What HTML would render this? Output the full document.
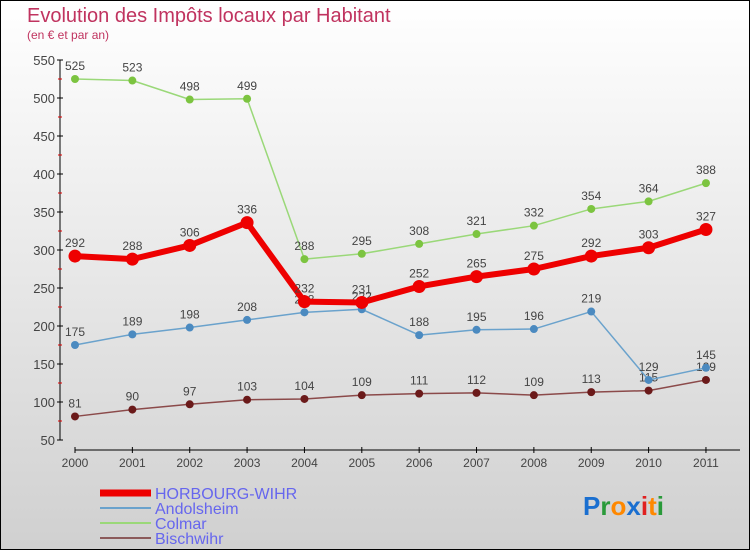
<!DOCTYPE html>
<html><head><meta charset="utf-8"><style>
body{margin:0}
#c{width:750px;height:550px;position:relative;overflow:hidden;box-sizing:border-box;border:1px solid #000;background:linear-gradient(#fff,#d0d0d0);font-family:"Liberation Sans",sans-serif}
</style></head><body>
<div id="c">
<svg id="s" width="750" height="550" style="position:absolute;left:-1px;top:-1px">
<text x="27" y="22" font-size="20" fill="#c0335f">Evolution des Impôts locaux par Habitant</text>
<text x="27" y="39" font-size="12" fill="#c0335f">(en € et par an)</text>
</svg>
</div>
<script>
const years=["2000","2001","2002","2003","2004","2005","2006","2007","2008","2009","2010","2011"];
const yTicks=[50,100,150,200,250,300,350,400,450,500,550];
const horbourg=[292,288,306,336,232,231,252,265,275,292,303,327];
const andolsheim=[175,189,198,208,218,222,188,195,196,219,129,145];
const colmar=[525,523,498,499,288,295,308,321,332,354,364,388];
const bischwihr=[81,90,97,103,104,109,111,112,109,113,115,129];
const s=document.getElementById('s');const NS='http://www.w3.org/2000/svg';
function X(i){return 75+i*57.36;}
function Y(v){return 440-(v-50)*0.76;}
function mk(t,a,p){const e=document.createElementNS(NS,t);for(const k in a)e.setAttribute(k,a[k]);(p||s).appendChild(e);return e;}
const ax=mk('line',{x1:60,y1:60,x2:60,y2:440,stroke:'#000'});


const xa=mk('line',{x1:75,y1:450,x2:740,y2:450,stroke:'#000'});


yTicks.forEach(v=>{mk('line',{x1:57,x2:63,y1:Y(v),y2:Y(v),stroke:'#000'});
if(v<550)mk('line',{x1:58,x2:62,y1:Y(v+25),y2:Y(v+25),stroke:'#d00'});
const t=mk('text',{x:55,y:Y(v)+5,'text-anchor':'end','font-size':13,fill:'#444'});t.textContent=v;

});
years.forEach((y,i)=>{mk('line',{x1:X(i),x2:X(i),y1:447,y2:453,stroke:'#000'});
const t=mk('text',{x:X(i),y:467,'text-anchor':'middle','font-size':12,fill:'#444'});t.textContent=y;

});
function series(d,col,dot,w,r,name){const g=mk('g',{});


mk('polyline',{points:d.map((v,i)=>X(i)+','+Y(v)).join(' '),fill:'none',stroke:col,'stroke-width':w,'stroke-linejoin':'round'},g);
d.forEach((v,i)=>{const c=mk('circle',{cx:X(i),cy:Y(v),r:r,fill:dot},g);


const t=mk('text',{x:X(i),y:Y(v)-9,'text-anchor':'middle','font-size':12,fill:'#444'},g);t.textContent=v;

});}
series(bischwihr,'#8b4a4a','#6b1a1a',1.5,4,'bischwihr-series');
series(andolsheim,'#6aa2cc','#4b8ac0',1.5,4,'andolsheim-series');
series(colmar,'#9ad878','#7cc440',1.5,4,'colmar-series');
series(horbourg,'#ee0000','#ee0000',6,6.5,'horbourg-wihr-series');
const leg=[['HORBOURG-WIHR','#ee0000',7],['Andolsheim','#6aa2cc',2],['Colmar','#9ad878',2],['Bischwihr','#8b5a5a',2]];
leg.forEach((l,i)=>{const y=493+i*15;const g=mk('g',{});


mk('line',{x1:100,x2:151,y1:y,y2:y,stroke:l[1],'stroke-width':l[2]},g);
const t=mk('text',{x:155,y:y+6,'font-size':16,fill:'#6666ee'},g);t.textContent=l[0];});
const lg=mk('text',{x:583,y:515,'font-size':26,'font-weight':'bold'});


[['P','#1a6fd0'],['r','#2a9a3a'],['o','#ff8800'],['x','#1a6fd0'],['i','#e02020'],['t','#ff8800'],['i','#2a9a3a']].forEach(p=>{const ts=mk('tspan',{fill:p[1]},lg);ts.textContent=p[0];});
</script>
</body></html>
